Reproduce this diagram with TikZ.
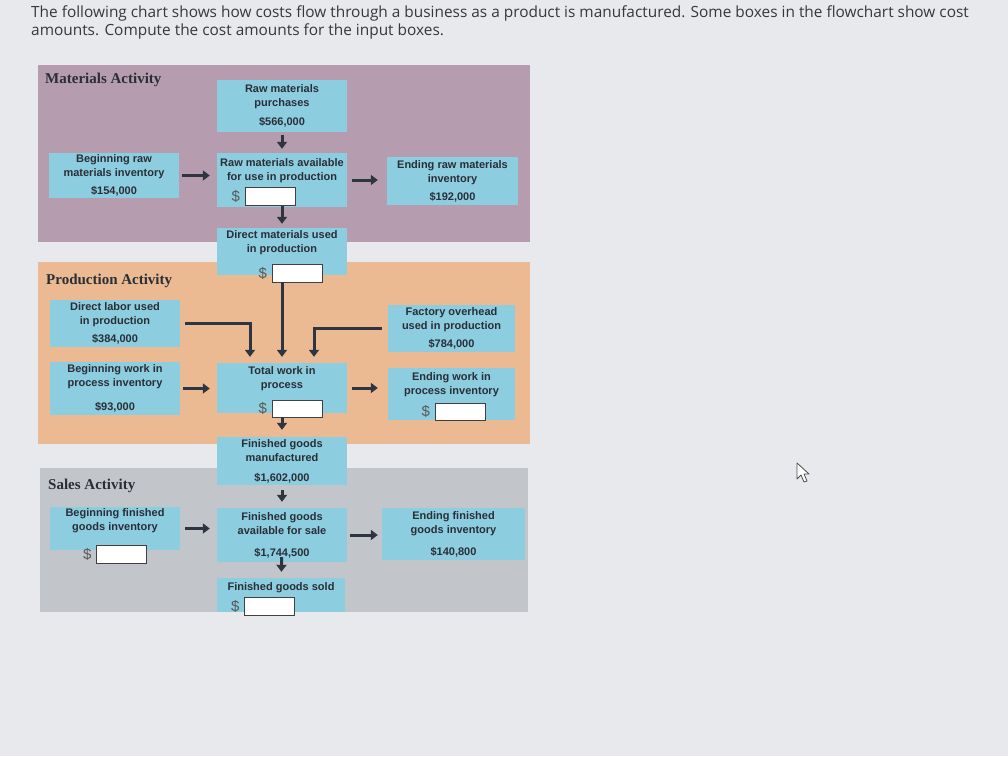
\documentclass[tikz,border=0pt]{standalone}
\usepackage{fontspec}
\setmainfont{Liberation Sans}
\newfontfamily\titlefont{Liberation Serif}
\newfontfamily\introfont{Open Sans}
\usetikzlibrary{positioning, calc, arrows.meta}

\definecolor{pagebg}{HTML}{E7E9EC}
\definecolor{matbg}{HTML}{B59CAF}
\definecolor{prodbg}{HTML}{EBBA93}
\definecolor{salesbg}{HTML}{C2C5C9}
\definecolor{boxblue}{HTML}{8CCDE0}
\definecolor{inkdark}{HTML}{2F3540}
\definecolor{textdark}{HTML}{2A2E36}

\begin{document}
\begin{tikzpicture}[
    x=1pt, y=-1pt,
    % Styles
    panel/.style={fill=#1, minimum width=492pt, anchor=north west, inner sep=0pt},
    paneltitle/.style={anchor=north west, font=\titlefont\bfseries\fontsize{15}{17}\selectfont,
        text=textdark, inner sep=0pt},
    box/.style={fill=boxblue, minimum width=130pt, align=center, inner sep=2pt,
        font=\bfseries\fontsize{11}{14}\selectfont, text=textdark},
    field/.style={draw=black!75, fill=white, line width=0.8pt, minimum width=50pt,
        minimum height=18pt, inner sep=0pt,
        label={[font=\fontsize{15}{15}\selectfont, text=black!65, label distance=1pt]left:\$}},
    flow/.style={-{Triangle[width=10pt, length=7pt]}, line width=3pt, draw=inkdark},
    header/.style={anchor=north west, align=left, inner sep=0pt, text=black!78,
        font=\introfont\fontsize{15.4}{17.5}\selectfont},
]
\useasboundingbox (0,0) rectangle (1008,756);
\fill[pagebg] (0,0) rectangle (1008,756);

% ===== Intro text =====
\node[header] (intro) at (31,6) {The following chart shows how costs flow through a business as a product is manufactured. Some boxes in the flowchart show cost\\amounts. Compute the cost amounts for the input boxes.};

% ===== Panels =====
\node[panel=matbg, minimum height=177pt] (matpanel) at (38,65) {};
\node[panel=prodbg, minimum height=182pt] (prodpanel) at (38,262) {};
\node[panel=salesbg, minimum width=488pt, minimum height=144pt] (salespanel) at (40,468) {};

\node[paneltitle] at ([shift={(7pt,-8pt)}]matpanel.north west) {Materials Activity};
\node[paneltitle] at ([shift={(8pt,-12pt)}]prodpanel.north west) {Production Activity};
\node[paneltitle] at ([shift={(8pt,-11pt)}]salespanel.north west) {Sales Activity};

% ===== Materials activity =====
\node[box, minimum height=52pt] (purch) at (282,106)
    {Raw materials\\purchases\\[5pt]\$566,000};
\node[box, minimum height=45pt] (begraw) at (114,175.5)
    {Beginning raw\\materials inventory\\[4pt]\$154,000};
\node[box, minimum height=54pt] (avail) at (282,180)
    {Raw materials available\\for use in production\\[2pt]\rule{0pt}{16pt}};
\node[field] (availfield) at (270,196.5) {};
\node[box, minimum width=131pt, minimum height=48pt] (endraw) at (452.5,181)
    {Ending raw materials\\inventory\\[4pt]\$192,000};

\draw[flow, shorten <=3pt, shorten >=4pt] (purch) -- (avail);
\draw[flow, shorten <=3pt, shorten >=7pt] (begraw.east) -- (begraw.east -| avail.west);
\draw[flow, shorten <=5pt, shorten >=9pt] (avail.east) -- (avail.east -| endraw.west);

\node[box, minimum height=47pt] (dmused) at (282,251.5)
    {Direct materials used\\in production\\[2pt]\rule{0pt}{14pt}};
\node[field] (dmfield) at (297,273) {};
\draw[flow, shorten >=4pt] (availfield.south -| avail.south) -- (dmused.north);

% ===== Production activity =====
\node[box, minimum height=47pt] (dlabor) at (115,323.5)
    {Direct labor used\\in production\\[4pt]\$384,000};
\node[box, minimum width=127pt, minimum height=47pt] (fohead) at (451.5,328.5)
    {Factory overhead\\used in production\\[4pt]\$784,000};
\node[box, minimum height=53pt] (begwip) at (115,388.5)
    {Beginning work in\\process inventory\\[10pt]\$93,000};
\node[box, minimum height=50pt] (totwip) at (282,388)
    {Total work in\\process\\[2pt]\rule{0pt}{16pt}};
\node[field, minimum height=17pt] (totfield) at (297,408.5) {};
\node[box, minimum width=127pt, minimum height=52pt] (endwip) at (451.5,394)
    {Ending work in\\process inventory\\[2pt]\rule{0pt}{16pt}};
\node[field, minimum height=17pt] (endwipfield) at (460,411.5) {};

\draw[flow, shorten <=5pt, shorten >=6pt] (dlabor.east) -| ([xshift=-32pt]totwip.north);
\draw[flow, shorten >=6pt] (dmfield.south -| totwip.north) -- (totwip.north);
\draw[flow, shorten <=6pt, shorten >=6pt] (fohead.west) -| ([xshift=32pt]totwip.north);
\draw[flow, shorten <=3pt, shorten >=7pt] (begwip.east) -- (begwip.east -| totwip.west);
\draw[flow, shorten <=5pt, shorten >=10pt] (totwip.east) -- (totwip.east -| endwip.west);

\node[box, minimum height=48pt] (fgmfg) at (282,461)
    {Finished goods\\manufactured\\[6pt]\$1,602,000};
\draw[flow, shorten >=7pt] (totfield.south -| totwip.south) -- (fgmfg.north);

% ===== Sales activity =====
\node[box, minimum height=43pt] (begfg) at (115,528.5)
    {Beginning finished\\goods inventory\\[2pt]\rule{0pt}{12pt}};
\node[field] (begfgfield) at (121.5,554) {};
\node[box, minimum height=54pt] (fgavail) at (282,535)
    {Finished goods\\available for sale\\[8pt]\$1,744,500};
\node[box, minimum width=143pt, minimum height=52pt] (endfg) at (453.5,534)
    {Ending finished\\goods inventory\\[8pt]\$140,800};
\node[box, minimum width=128pt, minimum height=34pt] (fgsold) at (281,595)
    {Finished goods sold\\[2pt]\rule{0pt}{12pt}};
\node[field] (fgsoldfield) at (269.5,606) {};

\draw[flow, shorten <=5pt, shorten >=6pt] (fgmfg) -- (fgavail);
\draw[flow, shorten <=5pt, shorten >=7pt] (begfg.east) -- (begfg.east -| fgavail.west);
\draw[flow, shorten <=3pt, shorten >=4pt] (fgavail.east) -- (fgavail.east -| endfg.west);
\draw[flow, shorten <=-5pt, shorten >=6pt] (fgavail) -- (fgsold);

% mouse pointer
\draw[black!70, fill=white, line width=0.8pt, line join=round]
    (797,463) -- (797,479) -- (801,475) -- (804,482) -- (807,481) -- (804,474)
    -- (809,474) -- cycle;

\end{tikzpicture}
\end{document}
